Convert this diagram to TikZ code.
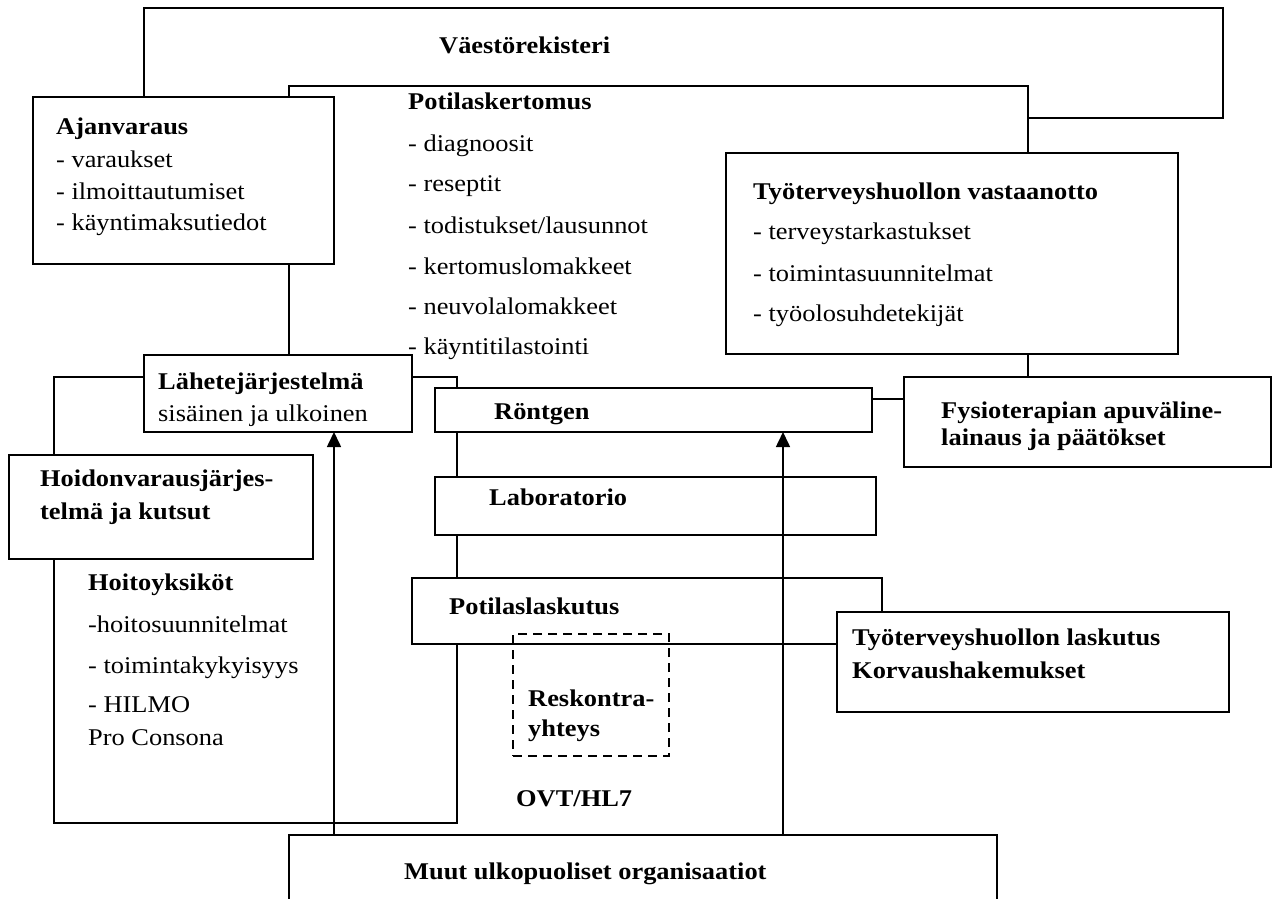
\documentclass[tikz,border=0pt]{standalone}
\usepackage{fontspec}
\setmainfont{Liberation Serif}[FakeStretch=1.1]
\usetikzlibrary{arrows.meta,backgrounds}
\begin{document}
\begin{tikzpicture}[x=1pt,y=-1pt,
  ln/.style={line width=1.8pt},
  box/.style={draw,line width=1.8pt,fill=white,inner sep=0pt,outer sep=0pt,anchor=north west},
  dbox/.style={draw,line width=1.3pt,dash pattern=on 9pt off 6pt,inner sep=0pt,outer sep=0pt,anchor=north west},
  txt/.style={anchor=base west,inner sep=0pt,font=\fontsize{24}{28}\selectfont},
  btxt/.style={anchor=base west,inner sep=0pt,font=\fontsize{24}{28}\selectfont\bfseries},
  arr/.style={line width=1.6pt,-{Triangle[length=15pt,width=14pt]}}]
\useasboundingbox (0,0) rectangle (1274,899);

% boxes
\node[box,minimum width=301pt,minimum height=167pt] (ajan) at (33,97) {};
\node[box,minimum width=452pt,minimum height=201pt] (tth) at (726,153) {};
\node[box,minimum width=268pt,minimum height=77pt] (lahete) at (144,355) {};
\node[box,minimum width=304pt,minimum height=104pt] (hoid) at (9,455) {};
\node[box,minimum width=437pt,minimum height=44pt] (ront) at (435,388) {};
\node[box,minimum width=441pt,minimum height=58pt] (lab) at (435,477) {};
\node[box,draw=none,minimum width=470pt,minimum height=66pt] (potlask) at (412,578) {};
\node[box,minimum width=392pt,minimum height=100pt] (tthl) at (837,612) {};
\node[box,minimum width=367pt,minimum height=90pt] (fysio) at (904,377) {};
\node[box,minimum width=708pt,minimum height=90pt] (muut) at (289,835) {};
\node[dbox,minimum width=156pt,minimum height=122pt] (resk) at (513,634) {};

% connectors and frames behind the boxes
\begin{pgfonlayer}{background}
\fill[white] (0,0) rectangle (1274,899);
\coordinate (v1) at (144,8);
\coordinate (v2) at (1223,8);
\coordinate (v3) at (1223,118);
\coordinate (p1) at (289,86);
\coordinate (p2) at (1028,86);
\coordinate (h1) at (54,377);
\coordinate (h2) at (457,823);
\coordinate (rf) at (0,399);
\draw[ln] (v1 |- ajan.north) -- (v1) -- (v2) -- (v3) -- (p2 |- v3);
\draw[ln] (p1 |- lahete.north) -- (p1) -- (p2) -- (p2 |- fysio.north);
\draw[ln] (h1) rectangle (h2);
\draw[ln] (ront.east |- rf) -- (fysio.west |- rf);
\end{pgfonlayer}

% open box of Potilaslaskutus
\draw[ln] (potlask.south -| tthl.west) -- (potlask.south west) -- (potlask.north west)
  -- (potlask.north east) -- (potlask.north east |- tthl.north);

% arrows
\coordinate (a1) at (334,0);
\coordinate (a2) at (783,0);
\draw[arr] (a1 |- muut.north) -- (a1 |- lahete.south);
\draw[arr] (a2 |- muut.north) -- (a2 |- ront.south);

% texts
\node[btxt] (tvaesto) at (439,53) {Väestörekisteri};

\node[btxt] (tajan) at (56,134) {Ajanvaraus};
\node[txt] (tajan1) at (56,167) {- varaukset};
\node[txt] (tajan2) at (56,199) {- ilmoittautumiset};
\node[txt] (tajan3) at (56,230) {- käyntimaksutiedot};

\node[btxt] (tpot) at (408,109) {Potilaskertomus};
\node[txt] (tpot1) at (408,151) {- diagnoosit};
\node[txt] (tpot2) at (408,191) {- reseptit};
\node[txt] (tpot3) at (408,233) {- todistukset/lausunnot};
\node[txt] (tpot4) at (408,274) {- kertomuslomakkeet};
\node[txt] (tpot5) at (408,314) {- neuvolalomakkeet};
\node[txt] (tpot6) at (408,354) {- käyntitilastointi};

\node[btxt] (ttth) at (753,199) {Työterveyshuollon vastaanotto};
\node[txt] (ttth1) at (753,239) {- terveystarkastukset};
\node[txt] (ttth2) at (753,281) {- toimintasuunnitelmat};
\node[txt] (ttth3) at (753,321) {- työolosuhdetekijät};

\node[btxt] (tlah) at (158,389) {Lähetejärjestelmä};
\node[txt] (tlah1) at (158,421) {sisäinen ja ulkoinen};

\node[btxt] (tront) at (494,419) {Röntgen};
\node[btxt] (tfys1) at (941,418) {Fysioterapian apuväline-};
\node[btxt] (tfys2) at (941,445) {lainaus ja päätökset};

\node[btxt] (thoid1) at (40,486) {Hoidonvarausjärjes-};
\node[btxt] (thoid2) at (40,519) {telmä ja kutsut};

\node[btxt] (tlab) at (489,505) {Laboratorio};

\node[btxt] (thy) at (88,590) {Hoitoyksiköt};
\node[txt] (thy1) at (88,632) {-hoitosuunnitelmat};
\node[txt] (thy2) at (88,673) {- toimintakykyisyys};
\node[txt] (thy3) at (88,712) {- HILMO};
\node[txt] (thy4) at (88,745) {Pro Consona};

\node[btxt] (tpl) at (449,614) {Potilaslaskutus};
\node[btxt] (tres1) at (528,706) {Reskontra-};
\node[btxt] (tres2) at (528,736) {yhteys};
\node[btxt] (tovt) at (516,806) {OVT/HL7};

\node[btxt] (ttl1) at (852,645) {Työterveyshuollon laskutus};
\node[btxt] (ttl2) at (852,678) {Korvaushakemukset};

\node[btxt] (tmuut) at (404,879) {Muut ulkopuoliset organisaatiot};
\end{tikzpicture}
\end{document}
